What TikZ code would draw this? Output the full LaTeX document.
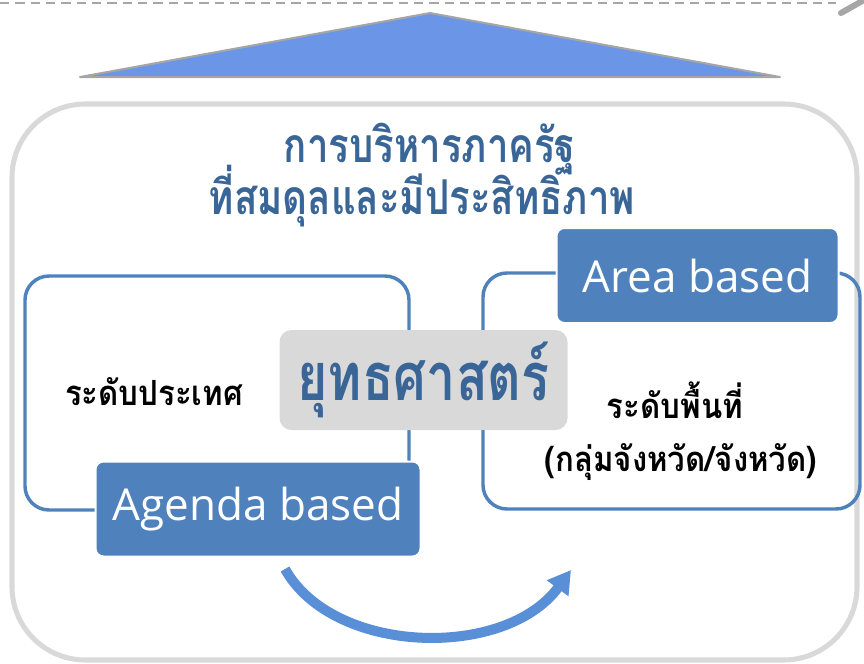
\documentclass[tikz,border=0pt]{standalone}
\usepackage{fontspec}
\usetikzlibrary{arrows.meta}
\newfontfamily\thaititle[Script=Thai,FakeStretch=0.8]{Loma}
\newfontfamily\thaistrat[Script=Thai,FakeStretch=0.78]{Loma}
\newfontfamily\thailabel[Script=Thai,FakeStretch=0.9]{Loma}
\newfontfamily\latfont{Open Sans}
\definecolor{boxblue}{HTML}{4F81BD}
\definecolor{titleblue}{HTML}{3A6597}
\definecolor{trifill}{HTML}{6B96E8}
\definecolor{trigray}{HTML}{A6A6A6}
\definecolor{lightgray}{HTML}{D9D9D9}
\definecolor{arrowblue}{HTML}{588FD7}
\tikzset{
  outlinebox/.style={draw=boxblue,line width=2.6pt,rounded corners=18pt},
  basedbox/.style={fill=boxblue,draw=white,line width=1.5pt,rounded corners=6pt,text=white,font=\latfont\fontsize{33}{40}\selectfont,inner sep=0pt},
  thaiblack/.style={font=\thailabel\bfseries\fontsize{26}{30}\selectfont,text=black,inner sep=0pt},
  titletext/.style={font=\thaititle\bfseries\fontsize{36}{40}\selectfont,text=titleblue,inner sep=0pt,anchor=base},
}
\begin{document}
\begin{tikzpicture}[x=0.75pt,y=-0.75pt]
\useasboundingbox (0,0) rectangle (864,664);
% top dashed line and corner stroke
\coordinate (d1) at (0,3);
\coordinate (d2) at (836,3);
\draw[trigray,line width=2.2pt,dash pattern=on 7pt off 4.5pt] (d1) -- (d2);
\coordinate (c1) at (841,13);
\coordinate (c2) at (864,0);
\draw[trigray,line width=4.5pt,line cap=round] (c1) -- (c2);
% triangle
\coordinate (ta) at (430,13);
\coordinate (tl) at (80,77);
\coordinate (tr) at (780,77);
\draw[fill=trifill,draw=trigray,line width=1.5pt,line join=round] (tl) -- (ta) -- (tr) -- cycle;
% big rounded box
\draw[lightgray,line width=3.8pt,rounded corners=55pt] (12,104) rectangle (857,660);
% title
\node[titletext] (title1) at (430,162) {การบริหารภาครัฐ};
\node[titletext] (title2) at (422,214) {ที่สมดุลและมีประสิทธิภาพ};
% outline rectangles
\draw[outlinebox] (25,276) rectangle (409,510);
\draw[outlinebox] (483,273) rectangle (860,509);
% filled boxes
\node[basedbox,minimum width=325*0.75pt,minimum height=95*0.75pt] (agenda) at (258,509) {Agenda based};
\node[basedbox,minimum width=282*0.75pt,minimum height=95*0.75pt] (area) at (697.5,275.5) {Area based};
\node[fill=lightgray,rounded corners=9pt,minimum width=288*0.75pt,minimum height=100*0.75pt,inner sep=0pt,text=titleblue,font=\thaistrat\bfseries\fontsize{50}{56}\selectfont] (strat) at (423.5,380) {ยุทธศาสตร์};
% labels
\node[thaiblack] (country) at (154,392) {ระดับประเทศ};
\node[thaiblack] (areal1) at (675,400) {ระดับพื้นที่};
\node[thaiblack] (areal2) at (681,462) {(กลุ่มจังหวัด/จังหวัด)};
% curved arrow
\coordinate (as) at (285,569);
\coordinate (ae) at (571,570);
\draw[arrowblue,line width=7.5pt,-{Triangle[length=17pt,width=19pt]}] (as) .. controls (333,655) and (505,660) .. (ae);
\end{tikzpicture}
\end{document}
